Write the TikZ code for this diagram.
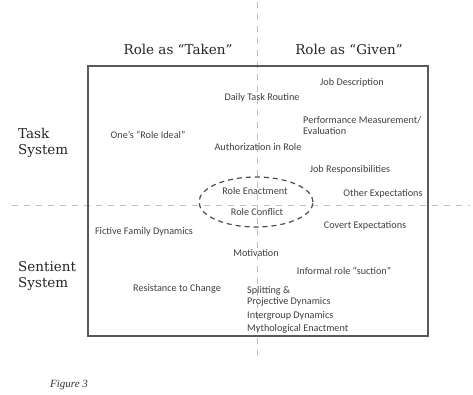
\documentclass[tikz,border=0pt]{standalone}
\usepackage{fontspec}
\setmainfont{DejaVu Serif}
\newfontfamily\itemfont{Carlito}
\newfontfamily\capfont{Liberation Serif}
\usetikzlibrary{shapes.geometric}
\begin{document}
\begin{tikzpicture}[x=1pt,y=-1pt,
  axisline/.style={draw=black!25,line width=0.9pt,dash pattern=on 6pt off 6pt},
  frame/.style={draw=black!65,line width=1.3pt},
  heading/.style={font=\fontsize{13.5}{15}\selectfont,text=black!85,inner sep=0pt},
  sidelabel/.style={font=\fontsize{13.5}{16.5}\selectfont,text=black!85,inner sep=0pt,align=left,anchor=west},
  item/.style={font=\itemfont\fontsize{10.2}{11}\selectfont,text=black!75,inner sep=0pt},
  itemleft/.style={item,anchor=west,align=left},
  core/.style={draw=black!70,line width=1.2pt,dash pattern=on 5pt off 4pt,ellipse,
    minimum width=114pt,minimum height=50pt,inner sep=0pt}]
\useasboundingbox (0,0) rectangle (473,394);

% axes of the role grid
\coordinate (vtop) at (257,2);
\coordinate (vbot) at (257,362);
\coordinate (hleft) at (12,205);
\coordinate (hright) at (470,205);
\draw[axisline] (vtop) -- (vbot);
\draw[axisline] (hleft) -- (hright);

% outer frame
\draw[frame] (88,66) rectangle (428,336);

% column and row headings
\node[heading] (taken) at (178,49) {Role as “Taken”};
\node[heading] (given) at (349,49) {Role as “Given”};
\node[sidelabel] (task) at (18,143) {Task\\System};
\node[sidelabel] (sentient) at (18,276) {Sentient\\System};

% central overlap of task and sentient systems
\node[core] (overlap) at (256,202) {};
\node[item] (enact) at (255,191) {Role Enactment};
\node[item] (conflict) at (257,212) {Role Conflict};

% task system items
\node[item] (jobdesc) at (352,83) {Job Description};
\node[item] (daily) at (262,98) {Daily Task Routine};
\node[itemleft] (perf) at (303,125) {Performance Measurement/\\Evaluation};
\node[item] (ideal) at (148,135) {One’s “Role Ideal”};
\node[item] (auth) at (258,147) {Authorization in Role};
\node[item] (jobresp) at (350,170) {Job Responsibilities};
\node[item] (other) at (383,194) {Other Expectations};

% sentient system items
\node[item] (covert) at (365,226) {Covert Expectations};
\node[item] (fictive) at (144,232) {Fictive Family Dynamics};
\node[item] (motiv) at (256,253) {Motivation};
\node[item] (suction) at (344,271) {Informal role “suction”};
\node[item] (resist) at (177,289) {Resistance to Change};
\node[itemleft] (split) at (247,296.5) {Splitting \&\\Projective Dynamics};
\node[itemleft] (intergroup) at (247,316) {Intergroup Dynamics};
\node[itemleft] (myth) at (247,329) {Mythological Enactment};

% caption
\node[font=\capfont\itshape\fontsize{11}{12}\selectfont,text=black!80,inner sep=0pt,anchor=west] (caption) at (50,385) {Figure 3};
\end{tikzpicture}
\end{document}
